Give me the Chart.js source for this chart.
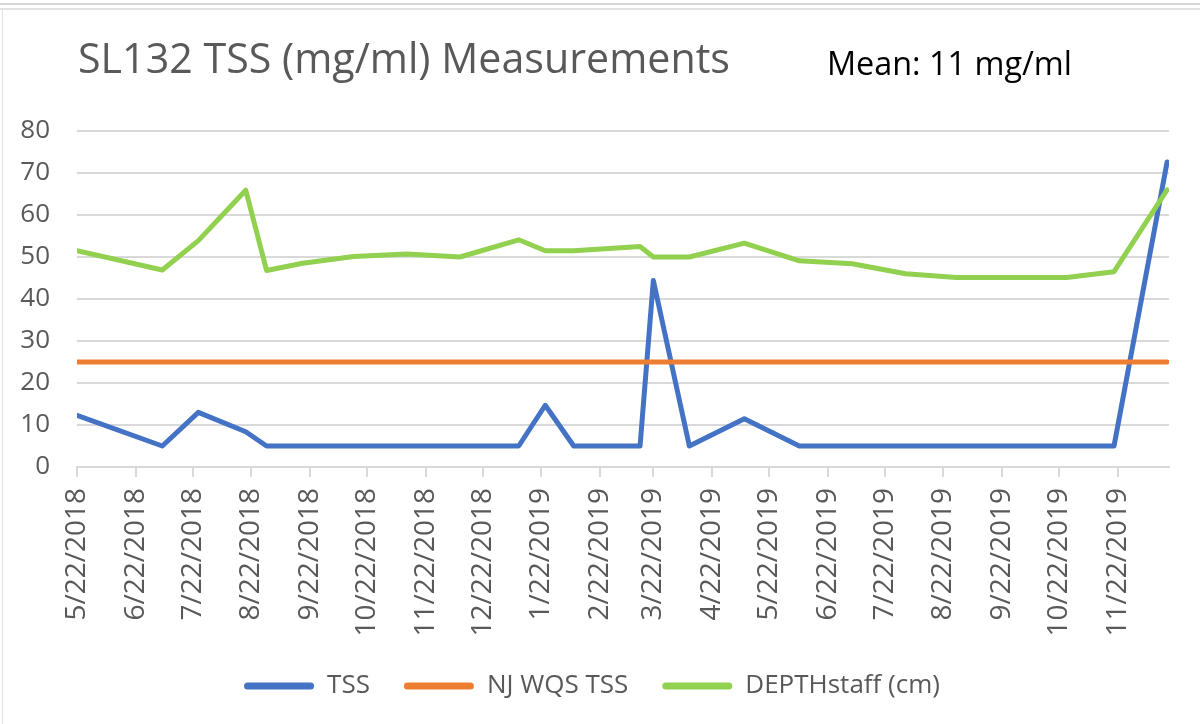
<!DOCTYPE html>
<html>
<head>
<meta charset="utf-8">
<title>SL132 TSS Measurements</title>
<script src="https://cdn.jsdelivr.net/npm/chart.js@4.4.1/dist/chart.umd.min.js"></script>
<style>
    html, body { margin: 0; padding: 0; background: #fff; }
    #wrap { position: relative; width: 1200px; height: 724px; overflow: hidden; }
    #frameTop1 { position: absolute; left: 0; top: 3px; width: 1200px; height: 2px; background: #d6d6d6; }
    #frameTop2 { position: absolute; left: 0; top: 8px; width: 1200px; height: 2px; background: #e2e2e2; }
    #frameLeft { position: absolute; left: 2px; top: 9px; width: 1px; height: 715px; background: #e2e2e2; }
    canvas { position: absolute; left: 0; top: 0; }
</style>
</head>
<body>
<div id="wrap">
    <canvas id="tssChart" width="1200" height="724"></canvas>
    <div id="frameTop1"></div>
    <div id="frameTop2"></div>
    <div id="frameLeft"></div>
</div>
<script>
// Sampling dates
const sampleDates = [
    '2018-05-22', '2018-07-06', '2018-07-25', '2018-08-19', '2018-08-30',
    '2018-09-18', '2018-10-15', '2018-11-12', '2018-12-10', '2019-01-10',
    '2019-01-24', '2019-02-08', '2019-03-15', '2019-03-22', '2019-04-10',
    '2019-05-09', '2019-06-07', '2019-07-05', '2019-08-02', '2019-08-29',
    '2019-10-26', '2019-11-20', '2019-12-18'
];

const tss = [12.3, 5, 13.0, 8.4, 5, 5, 5, 5, 5, 5, 14.7, 5, 5, 44.4, 5, 11.5, 5, 5, 5, 5, 5, 5, 72.6];
const njWqsTss = [25, 25, 25, 25, 25, 25, 25, 25, 25, 25, 25, 25, 25, 25, 25, 25, 25, 25, 25, 25, 25, 25, 25];
const depthStaff = [51.5, 46.9, 53.9, 65.9, 46.8, 48.5, 50.1, 50.7, 50.0, 54.1, 51.5, 51.5, 52.5, 50.0, 50.0, 53.3, 49.1, 48.4, 46.0, 45.1, 45.1, 46.5, 66.0];

const xTickLabels = [
    '5/22/2018', '6/22/2018', '7/22/2018', '8/22/2018', '9/22/2018', '10/22/2018',
    '11/22/2018', '12/22/2018', '1/22/2019', '2/22/2019', '3/22/2019', '4/22/2019',
    '5/22/2019', '6/22/2019', '7/22/2019', '8/22/2019', '9/22/2019', '10/22/2019',
    '11/22/2019'
];
const yTicks = [0, 10, 20, 30, 40, 50, 60, 70, 80];

const titleText = 'SL132 TSS (mg/ml) Measurements';
const meanText = 'Mean: 11 mg/ml';

// day offsets from the first sample so a plain linear scale can be used
const startMs = Date.UTC(2018, 4, 22);
const dayOfIso = (s) => {
    const [y, m, d] = s.split('-').map(Number);
    return (Date.UTC(y, m - 1, d) - startMs) / 864e5;
};
const dayOfLabel = (s) => {
    const [m, d, y] = s.split('/').map(Number);
    return (Date.UTC(y, m - 1, d) - startMs) / 864e5;
};
const sampleDays = sampleDates.map(dayOfIso);
const tickDays = xTickLabels.map(dayOfLabel);

const toPoints = (vals) => vals.map((v, i) => ({ x: sampleDays[i], y: v }));

const textColor = '#595959';
const gridColor = '#d9d9d9';
const fontFamily = '"Open Sans", "Noto Sans", sans-serif';

// Title + mean annotation, squeezed to the reference widths
const headerText = {
    id: 'headerText',
    afterDraw(chart) {
        const ctx = chart.ctx;
        const drawFit = (text, x, baseline, size, width, color) => {
            ctx.save();
            ctx.font = size + 'px ' + fontFamily;
            ctx.fillStyle = color;
            ctx.textBaseline = 'alphabetic';
            const w = ctx.measureText(text).width;
            ctx.translate(x, baseline);
            ctx.scale(width / w, 1);
            ctx.fillText(text, 0, 0);
            ctx.restore();
        };
        drawFit(titleText, 78, 73, 42, 652, textColor);
        drawFit(meanText, 827, 75, 32.5, 245, '#000000');
    }
};

const ctx = document.getElementById('tssChart').getContext('2d');
const tssChart = new Chart(ctx, {
    type: 'line',
    data: {
        datasets: [
            {
                label: 'TSS',
                data: toPoints(tss),
                borderColor: '#4472C4',
                backgroundColor: '#4472C4',
                order: 2
            },
            {
                label: 'NJ WQS TSS',
                data: toPoints(njWqsTss),
                borderColor: '#ED7D31',
                backgroundColor: '#ED7D31',
                order: 1
            },
            {
                label: 'DEPTHstaff (cm)',
                data: toPoints(depthStaff),
                borderColor: '#92D050',
                backgroundColor: '#92D050',
                order: 0
            }
        ]
    },
    options: {
        responsive: false,
        animation: false,
        events: [],
        elements: {
            line: { borderWidth: 5, borderCapStyle: 'round', borderJoinStyle: 'round', tension: 0, fill: false },
            point: { radius: 0 }
        },
        // small left padding + narrower y axis keeps the plot at x=77 and nudges the legend right
        layout: { padding: { top: 131, left: 15, right: 31, bottom: 15 } },
        plugins: {
            tooltip: { enabled: false },
            legend: {
                position: 'bottom',
                labels: {
                    color: textColor,
                    font: { family: fontFamily, size: 26 },
                    boxWidth: 70,
                    boxHeight: 7,
                    padding: 34,
                    useBorderRadius: true,
                    borderRadius: 3.5,
                    sort: (a, b) => a.datasetIndex - b.datasetIndex,
                    generateLabels: (chart) => Chart.defaults.plugins.legend.labels.generateLabels(chart)
                        .map(item => Object.assign(item, { lineWidth: 0, fillStyle: item.strokeStyle }))
                }
            }
        },
        scales: {
            x: {
                type: 'linear',
                min: 0,
                max: 576,
                afterBuildTicks: (scale) => { scale.ticks = tickDays.map(v => ({ value: v })); },
                afterFit: (scale) => { scale.height = 172; },
                grid: { drawOnChartArea: false, drawTicks: true, tickLength: 10, color: gridColor, lineWidth: 2 },
                border: { color: gridColor, width: 2 },
                ticks: {
                    autoSkip: false,
                    minRotation: 90,
                    maxRotation: 90,
                    padding: 11,
                    color: textColor,
                    font: { family: fontFamily, size: 28 },
                    callback: (value, index) => xTickLabels[index]
                }
            },
            y: {
                min: 0,
                max: 80,
                afterBuildTicks: (scale) => { scale.ticks = yTicks.map(v => ({ value: v })); },
                afterFit: (scale) => { scale.width = 62; },
                grid: { drawTicks: false, color: gridColor, lineWidth: 2 },
                border: { display: false },
                ticks: {
                    padding: 27,
                    color: textColor,
                    font: { family: fontFamily, size: 26 }
                }
            }
        }
    },
    plugins: [headerText]
});
</script>
</body>
</html>
